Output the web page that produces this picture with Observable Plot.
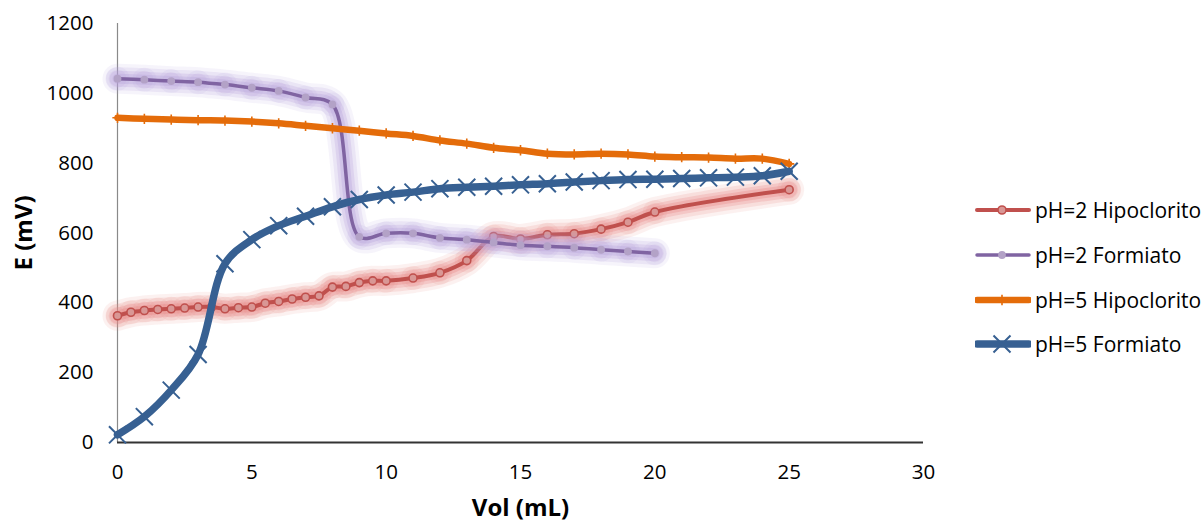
<!DOCTYPE html>
<html><head><meta charset="utf-8">
<script src="https://cdn.jsdelivr.net/npm/d3@7"></script>
<script src="https://cdn.jsdelivr.net/npm/@observablehq/plot@0.6"></script>
<style>
html,body{margin:0;padding:0;background:#fff;}
#wrap{position:relative;width:1202px;height:525px;font-family:"Open Sans",sans-serif;}
.item{position:absolute;left:975px;height:30px;display:flex;align-items:center;white-space:nowrap;font-size:21px;color:#000;}
.item svg{display:block;margin-right:4px;}
</style></head><body><div id="wrap"></div>
<script>
// ---- data ----
const xTicks = [0, 5, 10, 15, 20, 25, 30];
const yTicks = [0, 200, 400, 600, 800, 1000, 1200];
const seriesNames = ["pH=2 Hipoclorito", "pH=2 Formiato", "pH=5 Hipoclorito", "pH=5 Formiato"];

const redX = [0,0.5,1,1.5,2,2.5,3,3.5,4,4.5,5,5.5,6,6.5,7,7.5,8,8.5,9,9.5,10,11,12,13,14,15,16,17,18,19,20,25];
const redY = [363,373,378,381,383,385,388,388,383,386,388,399,404,411,416,420,445,447,458,463,463,471,486,521,590,583,595,598,611,631,660,724];

const purpleX = [0,1,2,3,4,5,6,7,8,9,10,11,12,13,14,15,16,17,18,19,20];
const purpleY = [1042,1039,1035,1032,1025,1016,1007,988,968,589,599,599,586,581,573,565,562,558,552,547,542];

const orangeX = [0,1,2,3,4,5,6,7,8,9,10,11,12,13,14,15,16,17,18,19,20,21,22,23,24,25];
const orangeY = [930,927,925,923,922,919,914,907,900,893,885,878,865,856,844,837,827,825,827,825,819,817,816,813,813,798];

const blueX = [0,1,2,3,4,5,6,7,8,9,10,11,12,13,14,15,16,17,18,19,20,21,22,23,24,25];
const blueY = [22,74,150,252,512,581,621,648,675,696,709,717,727,731,734,738,741,746,750,753,754,756,758,760,764,777];

// ---- styles ----
const C = {
  red: "#c0504d", redFill: "#d99795", redGlow: "#e98886",
  purple: "#8064a2", purpleFill: "#b3a2c7", purpleGlow: "#b9a3db",
  orange: "#e46c0a", blue: "#376092"
};
const curve = "catmull-rom";
const glowLayers = [{w: 30, o: 0.12}, {w: 23, o: 0.18}, {w: 16, o: 0.26}, {w: 10, o: 0.34}];

function glow(X, Y, color) {
  const marks = [];
  for (const g of glowLayers) {
    marks.push(Plot.line(Y, {x: X, y: Y, curve, stroke: color, strokeWidth: g.w, strokeOpacity: g.o, strokeLinecap: "round", strokeLinejoin: "round"}));
  }
  marks.push(Plot.dot(Y, {x: X, y: Y, r: 12, fill: color, fillOpacity: 0.12}));
  marks.push(Plot.dot(Y, {x: X, y: Y, r: 9, fill: color, fillOpacity: 0.16}));
  return marks;
}

const chart = Plot.plot({
  width: 1202, height: 525,
  marginLeft: 117, marginRight: 279, marginTop: 23, marginBottom: 83,
  style: {fontFamily: '"Open Sans", sans-serif', fontSize: "20.5px", background: "transparent", color: "#000"},
  x: {domain: [0, 30], ticks: xTicks, tickSize: 0, tickPadding: 22, label: null, tickFormat: d => String(d)},
  y: {domain: [0, 1200], ticks: yTicks, tickSize: 0, tickPadding: 24, label: null, tickFormat: d => String(d)},
  marks: [
    Plot.ruleX([0], {stroke: "#8a8a8a", strokeWidth: 1.2}),
    Plot.ruleY([0], {stroke: "#333", strokeWidth: 2.2}),
    // red series
    ...glow(redX, redY, C.redGlow),
    Plot.line(redY, {x: redX, y: redY, curve, stroke: C.red, strokeWidth: 4}),
    Plot.dot(redY, {x: redX, y: redY, r: 4, fill: C.redFill, stroke: C.red, strokeWidth: 1.6}),
    // purple series
    ...glow(purpleX, purpleY, C.purpleGlow),
    Plot.line(purpleY, {x: purpleX, y: purpleY, curve, stroke: C.purple, strokeWidth: 3.5}),
    Plot.dot(purpleY, {x: purpleX, y: purpleY, r: 3.9, fill: C.purpleFill}),
    // orange series
    Plot.line(orangeY, {x: orangeX, y: orangeY, curve, stroke: C.orange, strokeWidth: 6.5}),
    Plot.dot(orangeY, {x: orangeX, y: orangeY, symbol: "plus", r: 3.4, stroke: C.orange, strokeWidth: 1.6}),
    // blue series
    Plot.line(blueY, {x: blueX, y: blueY, curve, stroke: C.blue, strokeWidth: 7.5}),
    Plot.dot(blueY, {x: blueX, y: blueY, symbol: "times", r: 7.8, stroke: C.blue, strokeWidth: 2}),
    // axis titles
    Plot.text(["Vol (mL)"], {frameAnchor: "bottom", dy: 66, textAnchor: "middle", lineAnchor: "middle", fontWeight: "bold", fontSize: 24}),
    Plot.text(["E (mV)"], {frameAnchor: "left", dx: -93, rotate: -90, textAnchor: "middle", lineAnchor: "middle", fontWeight: "bold", fontSize: 24})
  ]
});

const wrap = document.getElementById("wrap");
wrap.appendChild(chart);

// legend
const legendY = [210, 255, 300, 344];
const swatch = [
  {stroke: C.red, w: 4, marker: s => s.append("circle").attr("cx", 27).attr("cy", 15).attr("r", 4).attr("fill", C.redFill).attr("stroke", C.red).attr("stroke-width", 1.6)},
  {stroke: C.purple, w: 3.5, marker: s => s.append("circle").attr("cx", 27).attr("cy", 15).attr("r", 3.9).attr("fill", C.purpleFill)},
  {stroke: C.orange, w: 6.5, marker: s => s.append("path").attr("d", d3.symbol(d3.symbolPlus, Math.PI * 3.4 * 3.4)()).attr("transform", "translate(27,15)").attr("stroke", C.orange).attr("stroke-width", 1.6).attr("fill", "none")},
  {stroke: C.blue, w: 7.5, marker: s => s.append("path").attr("d", d3.symbol(d3.symbolTimes, Math.PI * 7.8 * 7.8)()).attr("transform", "translate(27,15)").attr("stroke", C.blue).attr("stroke-width", 2).attr("fill", "none")}
];
seriesNames.forEach((name, i) => {
  const item = d3.select(wrap).append("div").attr("class", "item").style("top", (legendY[i] - 15) + "px");
  const s = item.append("svg").attr("width", 56).attr("height", 30);
  s.append("line").attr("x1", 2).attr("x2", 54).attr("y1", 15).attr("y2", 15)
    .attr("stroke", swatch[i].stroke).attr("stroke-width", swatch[i].w).attr("stroke-linecap", "round");
  swatch[i].marker(s);
  item.append("span").text(name);
});
</script></body></html>
